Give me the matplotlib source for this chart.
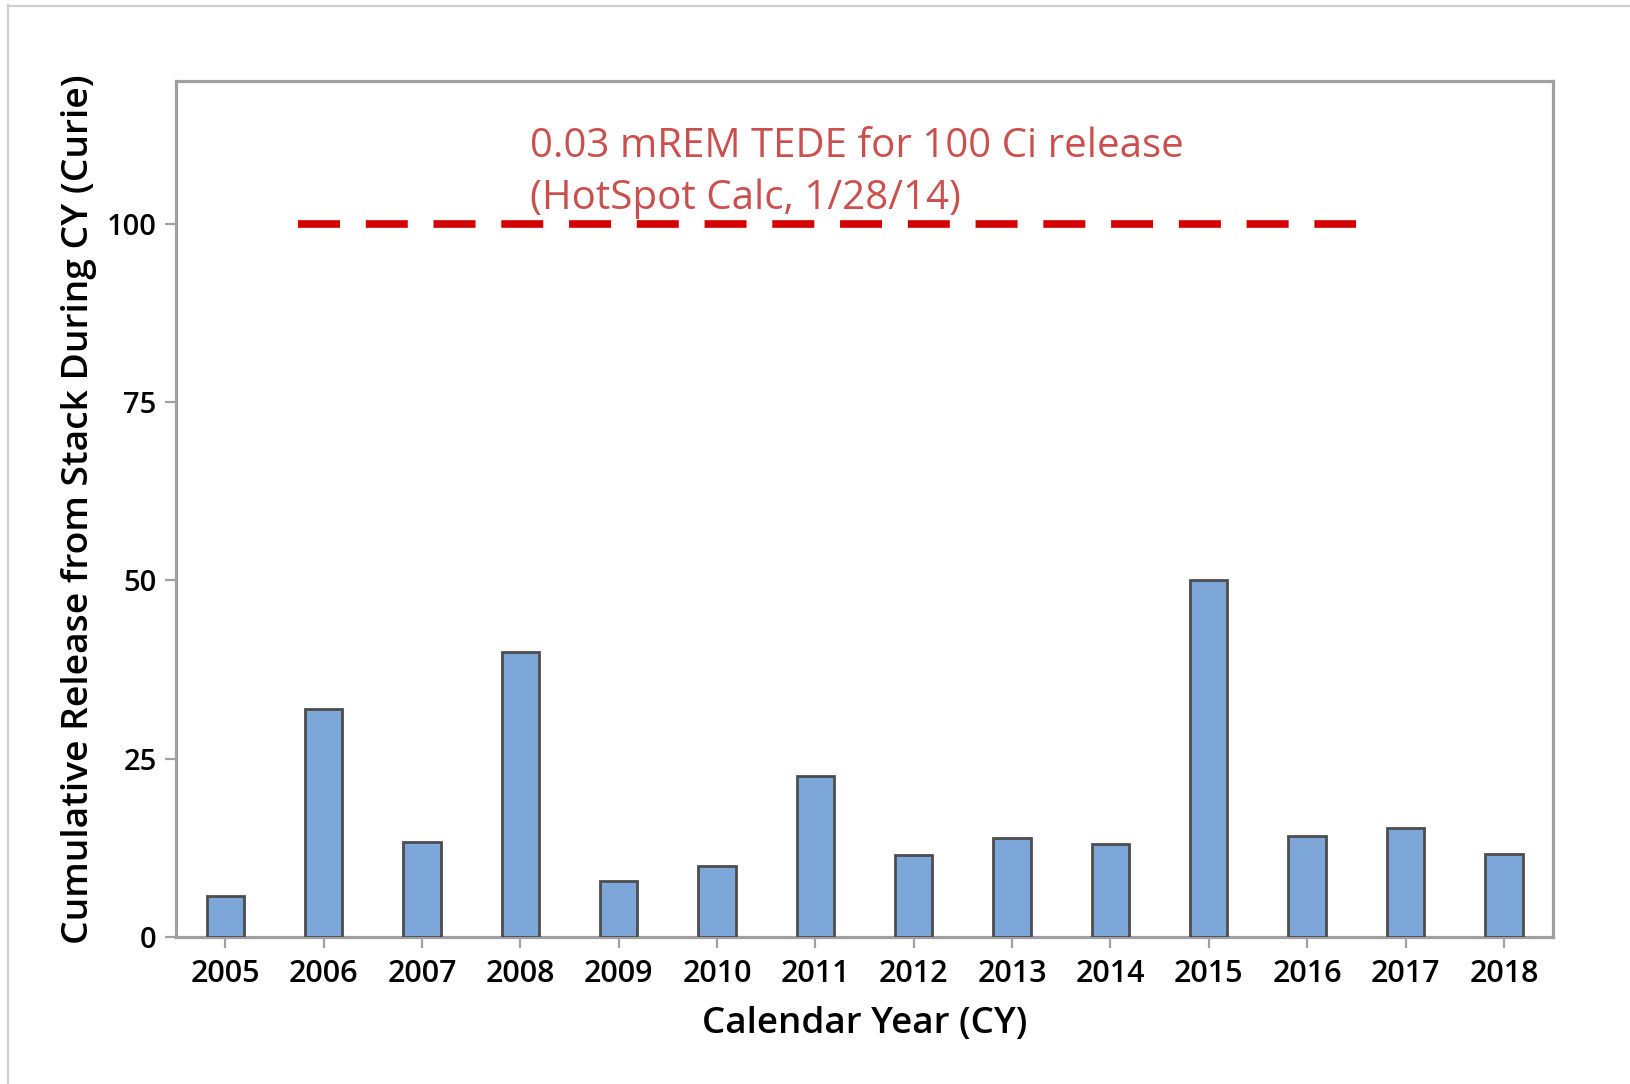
import matplotlib.pyplot as plt
from matplotlib.lines import Line2D

plt.rcParams['font.family'] = ['Open Sans', 'DejaVu Sans']

# data
years = ['2005', '2006', '2007', '2008', '2009', '2010', '2011',
         '2012', '2013', '2014', '2015', '2016', '2017', '2018']
release_ci = [5.8, 32.0, 13.3, 40.0, 7.8, 9.9, 22.6,
              11.5, 13.9, 13.0, 50.0, 14.1, 15.3, 11.7]
limit_ci = 100
limit_label = ['0.03 mREM TEDE for 100 Ci release', '(HotSpot Calc, 1/28/14)']
y_ticks = [0, 25, 50, 75, 100]

fig = plt.figure(figsize=(16.3, 10.84), dpi=100)
ax = fig.add_axes([0.108, 0.1356, 0.8448, 0.7897])

x = range(len(years))
ax.bar(x, release_ci, width=0.38, color='#7ea7d9', edgecolor='#4d4d4d',
       linewidth=2, zorder=3)

# reference line
ax.plot([0.745, 11.5], [limit_ci, limit_ci], color='#d40000', linewidth=5.5,
        dashes=(5.5, 3.37), dash_capstyle='butt', zorder=4)
ax.text(3.1, 109.3, limit_label[0], color='#c9504f', fontsize=29, va='baseline')
ax.text(3.1, 102.0, limit_label[1], color='#c9504f', fontsize=29, va='baseline')

ax.set_xlim(-0.5, 13.5)
ax.set_ylim(0, 120)
ax.set_xticks(list(x))
ax.set_xticklabels(years)
ax.set_yticks(y_ticks)

for s in ax.spines.values():
    s.set_color('#a0a0a0')
    s.set_linewidth(2.3)
ax.tick_params(axis='both', colors='#a0a0a0', length=8, width=1.6,
               labelcolor='black')
ax.tick_params(axis='x', pad=8, labelsize=22)
ax.tick_params(axis='y', pad=6, labelsize=21)
for lab in ax.get_yticklabels() + ax.get_xticklabels():
    lab.set_fontweight('semibold')

ax.set_xlabel('Calendar Year (CY)', fontsize=26.5, fontweight='semibold', labelpad=12)
ax.set_ylabel('Cumulative Release from Stack During CY (Curie)', fontsize=26.8,
              fontweight='semibold', labelpad=7)

# light frame around the whole graphic
fig.add_artist(Line2D([7.5 / 1630, 7.5 / 1630], [1 - 5 / 1084, 0], color='#d0d0d0',
                      linewidth=1.6, transform=fig.transFigure))
fig.add_artist(Line2D([7.5 / 1630, 1], [1 - 5.5 / 1084, 1 - 5.5 / 1084], color='#d0d0d0',
                      linewidth=1.6, transform=fig.transFigure))

fig.savefig('out.png', dpi=100)
